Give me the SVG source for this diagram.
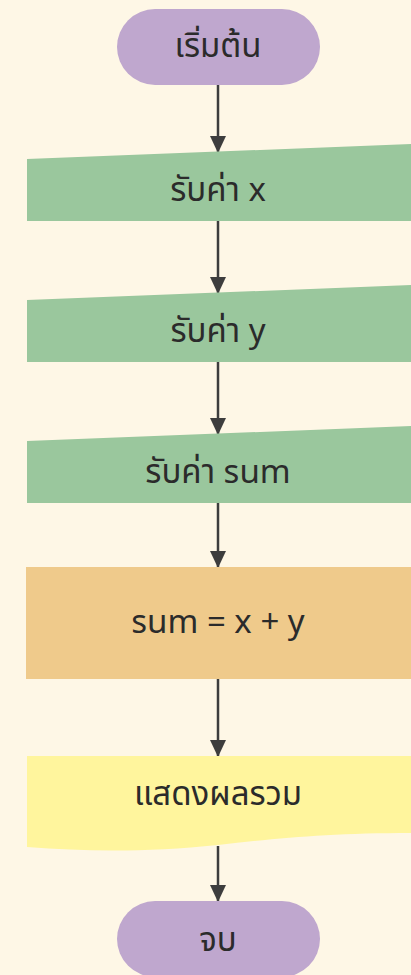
<svg xmlns="http://www.w3.org/2000/svg" width="411" height="975" viewBox="0 0 411 975">
<defs>
<marker id="ah" markerWidth="17" markerHeight="16" refX="16" refY="8" orient="auto" markerUnits="userSpaceOnUse" viewBox="0 0 17 16"><path d="M0,0 L17,8 L0,16 Z" fill="#3d3d3d"/></marker>
<style>
.t{font-family:"Noto Sans","Noto Sans Thai","Liberation Sans",sans-serif;font-size:33px;fill:#2b2b2b;text-anchor:middle}
.c{stroke:#3d3d3d;stroke-width:2.5;fill:none}
.term{fill:#bfa7ce}
.inp{fill:#9ac79d}
</style>
</defs>
<rect width="411" height="975" fill="#fef7e6"/>
<g id="connectors">
<line class="c" x1="218" y1="85" x2="218" y2="152" marker-end="url(#ah)"/>
<line class="c" x1="218" y1="221" x2="218" y2="293" marker-end="url(#ah)"/>
<line class="c" x1="218" y1="362" x2="218" y2="434" marker-end="url(#ah)"/>
<line class="c" x1="218" y1="503" x2="218" y2="567" marker-end="url(#ah)"/>
<line class="c" x1="218" y1="679" x2="218" y2="756" marker-end="url(#ah)"/>
<line class="c" x1="218" y1="846" x2="218" y2="901" marker-end="url(#ah)"/>
</g>
<g id="start">
<rect class="term" x="117" y="9" width="203" height="76" rx="38"/>
<text class="t" x="218" y="57">เริ่มต้น</text>
</g>
<g id="input-x">
<path class="inp" d="M27,159 L411,144 L411,221 L27,221 Z"/>
<text class="t" x="218" y="201">รับค่า x</text>
</g>
<g id="input-y">
<path class="inp" d="M27,300 L411,285 L411,362 L27,362 Z"/>
<text class="t" x="218" y="342">รับค่า y</text>
</g>
<g id="input-sum">
<path class="inp" d="M27,441 L411,426 L411,503 L27,503 Z"/>
<text class="t" x="218" y="483">รับค่า sum</text>
</g>
<g id="process">
<rect x="26" y="567" width="385" height="112" fill="#efca8b"/>
<text class="t" x="218" y="633">sum = x + y</text>
</g>
<g id="output">
<path d="M27,756 L411,756 L411,833 C330,833 280,838 218,845 C150,852 90,852 27,847 Z" fill="#fff59d"/>
<text class="t" x="218" y="805">แสดงผลรวม</text>
</g>
<g id="end">
<rect class="term" x="117" y="901" width="203" height="76" rx="38"/>
<text class="t" x="218" y="951">จบ</text>
</g>
</svg>
